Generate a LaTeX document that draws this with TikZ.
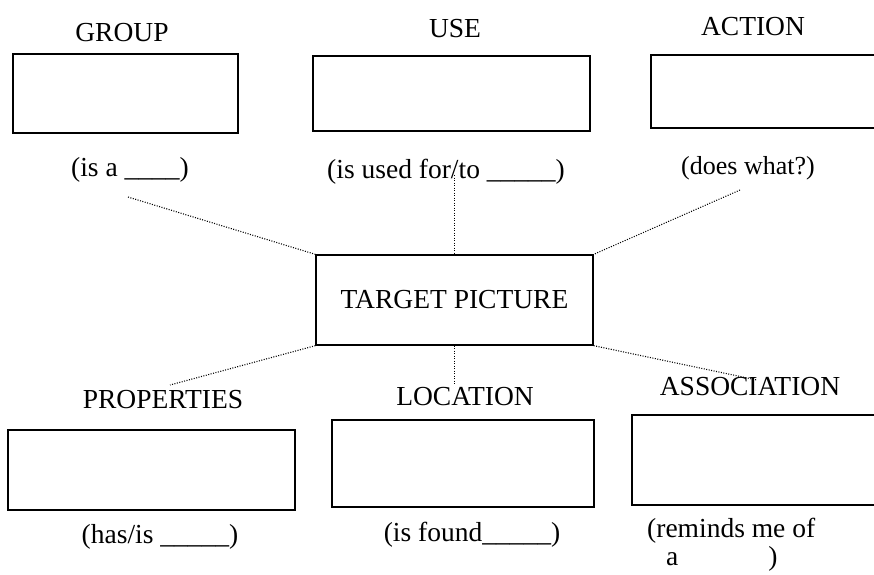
\documentclass[tikz,border=0pt]{standalone}
\usepackage{fontspec}
\setmainfont{Liberation Serif}
\begin{document}
\begin{tikzpicture}[x=1pt,y=-1pt,
  box/.style={draw, line width=1.3pt, inner sep=0pt},
  lbl/.style={anchor=base, inner sep=0pt, font=\fontsize{27.5}{28}\selectfont},
  link/.style={line width=1.1pt, dash pattern=on 1pt off 1.5pt}]
\useasboundingbox (0,0) rectangle (874,574);
\clip (0,0) rectangle (874,574);
% boxes
\node[box, minimum width=225pt, minimum height=79pt] (gbox) at (125.5,93.5) {};
\node[box, minimum width=277pt, minimum height=75pt] (ubox) at (451.5,93.5) {};
\node[box, minimum width=233pt, minimum height=73pt] (abox) at (767.5,91.5) {};
\node[box, minimum width=277pt, minimum height=90pt, font=\fontsize{27.5}{28}\selectfont] (tgt) at (454.5,300) {TARGET PICTURE};
\node[box, minimum width=287pt, minimum height=80pt] (pbox) at (151.5,470) {};
\node[box, minimum width=262pt, minimum height=87pt] (lbox) at (463,463.5) {};
\node[box, minimum width=252pt, minimum height=90pt] (sbox) at (758,460) {};
% headings
\node[lbl] (gl) at (122,41) {GROUP};
\node[lbl] (ul) at (455,37) {USE};
\node[lbl] (al) at (753,35) {ACTION};
\node[lbl] (pl) at (163,408) {PROPERTIES};
\node[lbl] (ll) at (465,405) {LOCATION};
\node[lbl] (sl) at (750,395) {ASSOCIATION};
% prompts
\node[lbl] (gq) at (130,176) {(is a \_\_\_\_)};
\node[lbl] (uq) at (446,178) {(is used for/to \_\_\_\_\_)};
\node[lbl, font=\fontsize{26}{28}\selectfont] (aq) at (748,174) {(does what?)};
\node[lbl] (pq) at (160,543) {(has/is \_\_\_\_\_)};
\node[lbl] (lq) at (472,541) {(is found\_\_\_\_\_)};
\node[lbl, anchor=base west, align=left] (sq) at (647,565) {(reminds me of\\\hspace*{19pt}a\hspace{90pt})};
% connector free ends
\coordinate (c1) at (128,197);
\coordinate (c2) at (454.5,175);
\coordinate (c3) at (740,190);
\coordinate (c4) at (170,385);
\coordinate (c5) at (454.5,384);
\coordinate (c6) at (757,380);
\draw[link] (c1) -- (tgt.north west);
\draw[link] (c2) -- (tgt.north);
\draw[link] (c3) -- (tgt.north east);
\draw[link] (tgt.south west) -- (c4);
\draw[link] (tgt.south) -- (c5);
\draw[link] (tgt.south east) -- (c6);
\end{tikzpicture}
\end{document}
